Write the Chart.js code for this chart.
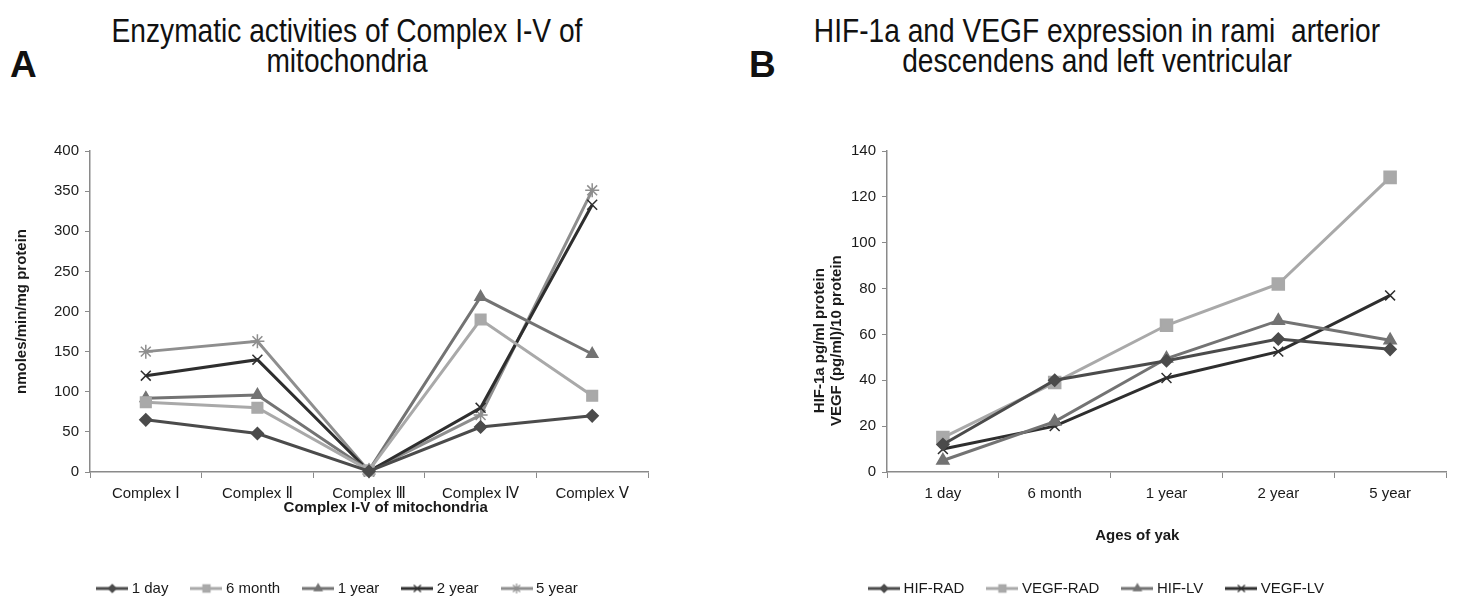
<!DOCTYPE html>
<html>
<head>
<meta charset="utf-8">
<script src="https://cdn.jsdelivr.net/npm/chart.js@4.4.1/dist/chart.umd.min.js"></script>
<style>
  html, body { margin: 0; padding: 0; background: #fff; overflow: hidden; }
  body { width: 1458px; height: 597px; position: relative; }
  .panel { position: absolute; top: 0; height: 606px; }
  .letter { position: absolute; font: bold 37px/37px "Liberation Sans", Arial, sans-serif; color: #111; }
  .title { position: absolute; text-align: center; color: #111; transform: scaleX(0.853);
           font: 33px/30px "Liberation Sans", Arial, sans-serif; }
</style>
</head>
<body>
<div class="letter" style="left:10px; top:46px;">A</div>
<div class="letter" style="left:749px; top:46px;">B</div>
<div class="title" style="left:0; width:694px; top:16px;">Enzymatic activities of Complex I-V of<br>mitochondria</div>
<div class="title" style="left:736px; width:722px; top:16px;">HIF-1a and VEGF expression in rami&nbsp; arterior<br>descendens and left ventricular</div>

<div class="panel" style="left:0; width:694px;"><canvas id="chart-a"></canvas></div>
<div class="panel" style="left:736px; width:722px;"><canvas id="chart-b"></canvas></div>

<script>
// Панель A: активність комплексів I–V
const complexLabels = ["Complex Ⅰ", "Complex Ⅱ", "Complex Ⅲ", "Complex Ⅳ", "Complex Ⅴ"];
const day1   = [65, 48, 1, 56, 70];
const month6 = [87, 80, 2, 190, 95];
const year1  = [92, 96, 2, 218, 147];
const year2  = [120, 140, 1, 80, 333];
const year5  = [150, 163, 1, 71, 351];
const ticksA = [0, 50, 100, 150, 200, 250, 300, 350, 400];

// Панель B: HIF-1a і VEGF
const ageLabels = ["1 day", "6 month", "1 year", "2 year", "5 year"];
const hifRad  = [12, 40, 48.5, 58, 53.5];
const vegfRad = [15, 39, 64, 82, 128.5];
const hifLv   = [5, 22, 49.5, 66, 57.5];
const vegfLv  = [10, 20, 41, 52.5, 77];
const ticksB  = [0, 20, 40, 60, 80, 100, 120, 140];

const FONT = "'Liberation Sans', 'DejaVu Sans', Arial, sans-serif";
const AXIS = "#8a8a8a";
const TEXT = "#1a1a1a";
const NB = "\u00a0";  // нерозривний пробіл, щоб зсунути підписи осей як в оригіналі

// Маленька іконка для легенди: лінія з маркером посередині
function legendIcon(color, style, r) {
  const c = document.createElement("canvas");
  c.width = 32; c.height = 14;
  const ctx = c.getContext("2d");
  ctx.strokeStyle = color; ctx.fillStyle = color;
  ctx.lineWidth = 3;
  ctx.beginPath(); ctx.moveTo(0, 7); ctx.lineTo(32, 7); ctx.stroke();
  ctx.lineWidth = 1.2;
  Chart.helpers.drawPoint(ctx, { pointStyle: style, radius: r, rotation: 0, borderWidth: 1.2 }, 16, 7);
  return c;
}

// Легенда в оригіналі трохи зсунута вправо відносно центру полотна
const legendShift = {
  id: "legendShift",
  afterLayout(chart, args, opts) {
    const dx = opts.dx || 0;
    chart.legend.left += dx;
    chart.legend.right += dx;
  },
};

function series(label, data, color, style, r, iconR) {
  return {
    label, data,
    borderColor: color, backgroundColor: color,
    pointBackgroundColor: color, pointBorderColor: color,
    borderWidth: 3, pointStyle: style, pointRadius: r, pointBorderWidth: 1.5,
    tension: 0, clip: false,
    _icon: legendIcon(color, style, iconR),
  };
}

function baseOptions(opts) {
  return {
    responsive: false,
    animation: false,
    events: [],
    layout: { padding: { top: 151, right: opts.padRight, left: 0, bottom: 0 } },
    plugins: {
      tooltip: { enabled: false },
      legendShift: { dx: opts.legendDx },
      legend: {
        position: "bottom",
        labels: {
          usePointStyle: true, pointStyleWidth: 24, padding: 26,
          color: TEXT, font: { family: FONT, size: 15 },
          generateLabels(chart) {
            return chart.data.datasets.map((ds, i) => ({
              text: ds.label, datasetIndex: i, pointStyle: ds._icon,
              fillStyle: ds.borderColor, strokeStyle: ds.borderColor, lineWidth: 0,
              fontColor: TEXT, hidden: false,
            }));
          },
        },
      },
    },
    scales: {
      x: {
        type: "category",
        offset: true,
        afterFit(s) { s.height = 83; },
        grid: { offset: true, drawOnChartArea: false, drawTicks: true, tickLength: 6, color: AXIS },
        border: { color: AXIS, width: 1.5 },
        ticks: { color: TEXT, font: { family: FONT, size: 15 }, padding: 7, maxRotation: 0 },
        title: { display: true, text: opts.xTitle, color: TEXT,
                 font: { family: FONT, size: 15, weight: "bold" },
                 padding: { top: 0, bottom: opts.xTitlePad } },
      },
      y: {
        min: 0, max: opts.yMax,
        afterFit(s) { s.width = opts.yWidth; },
        afterBuildTicks(s) { s.ticks = opts.yTicks.map(v => ({ value: v })); },
        grid: { drawOnChartArea: false, drawTicks: true, tickLength: 5, color: AXIS },
        border: { color: AXIS, width: 1.5 },
        ticks: { color: TEXT, font: { family: FONT, size: 15 }, padding: 6 },
        title: { display: true, text: opts.yTitle, color: TEXT,
                 font: { family: FONT, size: 15, weight: "bold", lineHeight: 1.1 },
                 padding: { top: opts.yTitlePad, bottom: 0 } },
      },
    },
  };
}

const canvasA = document.getElementById("chart-a");
canvasA.width = 694; canvasA.height = 606;
new Chart(canvasA, {
  type: "line",
  data: {
    labels: complexLabels,
    datasets: [
      series("1 day",   day1,   "#4b4b4b", "rectRot",  6, 4),
      series("6 month", month6, "#a9a9a9", "rect",     7.5, 5),
      series("1 year",  year1,  "#737373", "triangle", 6.5, 4.5),
      series("2 year",  year2,  "#2e2e2e", "crossRot", 7, 5),
      series("5 year",  year5,  "#8e8e8e", "star",     7, 5),
    ],
  },
  options: baseOptions({
    padRight: 46, yWidth: 90, yMax: 400, yTicks: ticksA, legendDx: 15,
    xTitle: NB.repeat(8) + "Complex I-V of mitochondria", xTitlePad: 38,
    yTitle: "nmoles/min/mg protein", yTitlePad: 14,
  }),
  plugins: [legendShift],
});

const canvasB = document.getElementById("chart-b");
canvasB.width = 722; canvasB.height = 606;
new Chart(canvasB, {
  type: "line",
  data: {
    labels: ageLabels,
    datasets: [
      series("HIF-RAD",  hifRad,  "#4b4b4b", "rectRot",  6, 4),
      series("VEGF-RAD", vegfRad, "#a9a9a9", "rect",     8.5, 5),
      series("HIF-LV",   hifLv,   "#737373", "triangle", 7, 4.5),
      series("VEGF-LV",  vegfLv,  "#2e2e2e", "crossRot", 7, 5),
    ],
  },
  options: baseOptions({
    padRight: 12, yWidth: 151, yMax: 140, yTicks: ticksB, legendDx: 7,
    xTitle: "Ages of yak" + NB.repeat(14), xTitlePad: 10,
    yTitle: ["HIF-1a pg/ml protein" + NB.repeat(14), "VEGF (pg/ml)/10 protein" + NB.repeat(14)], yTitlePad: 76,
  }),
  plugins: [legendShift],
});
</script>
</body>
</html>
